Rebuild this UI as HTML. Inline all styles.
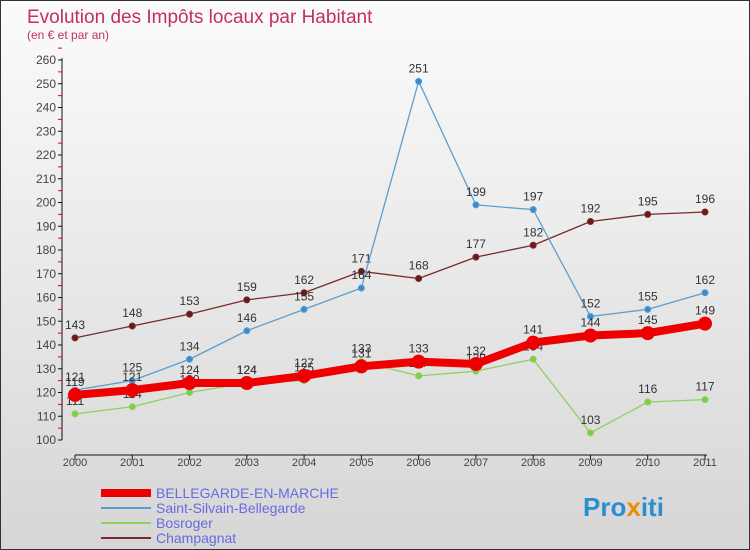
<!DOCTYPE html>
<html><head><meta charset="utf-8"><style>
body{margin:0}
#c{position:relative;width:748px;height:548px;border:1px solid #333;background:linear-gradient(#fbfbfb,#d6d6d6);font-family:"Liberation Sans",sans-serif;overflow:hidden}
</style></head><body>
<div id="c">
<svg id="s" width="748" height="548" xmlns="http://www.w3.org/2000/svg" style="position:absolute;left:0;top:0">
<text x="26" y="22" font-size="19" fill="#c2305d">Evolution des Impôts locaux par Habitant</text>
<text x="26" y="38" font-size="12" fill="#c2305d">(en € et par an)</text>
<text x="582" y="515" font-size="26" font-weight="bold" fill="#2a8fd0">Pro<tspan fill="#f08a00">x</tspan>iti</text>
</svg>
</div>
<script>
const years=[2000,2001,2002,2003,2004,2005,2006,2007,2008,2009,2010,2011];
const yTicks=[100,110,120,130,140,150,160,170,180,190,200,210,220,230,240,250,260];
const bellegarde=[119,121,124,124,127,131,133,132,141,144,145,149];
const saintSilvain=[121,125,134,146,155,164,251,199,197,152,155,162];
const bosroger=[111,114,120,124,125,133,127,129,134,103,116,117];
const champagnat=[143,148,153,159,162,171,168,177,182,192,195,196];
const seriesNames=["BELLEGARDE-EN-MARCHE","Saint-Silvain-Bellegarde","Bosroger","Champagnat"];
const NS="http://www.w3.org/2000/svg";
const svg=document.getElementById('s');
function X(i){return 74+i*(630/11);}
function Y(v){return 439-(v-100)*2.375;}
function el(t,a){const e=document.createElementNS(NS,t);for(const k in a)e.setAttribute(k,a[k]);svg.appendChild(e);return e;}
let e=el('line',{x1:61,y1:Y(260)-2,x2:61,y2:Y(100),stroke:'#111'});


e=el('line',{x1:X(0),y1:454,x2:X(11)+2,y2:454,stroke:'#111'});


yTicks.forEach(v=>{
 el('line',{x1:57,y1:Y(v),x2:61,y2:Y(v),stroke:'#111'});
 el('line',{x1:57,y1:Y(v+5),x2:61,y2:Y(v+5),stroke:'#e00'});
 const t=el('text',{x:55,y:Y(v)+4,'font-size':12,fill:'#444','text-anchor':'end'});
 t.textContent=v;
 
 
});
years.forEach((y,i)=>{
 el('line',{x1:X(i),y1:454,x2:X(i),y2:459,stroke:'#111'});
 const t=el('text',{x:X(i),y:465,'font-size':11,fill:'#444','text-anchor':'middle'});
 t.textContent=y;
 
 
});
function series(data,color,w,r,name,dot){
 const p=el('polyline',{points:data.map((v,i)=>X(i)+','+Y(v)).join(' '),fill:'none',stroke:color,'stroke-width':w,'stroke-linejoin':'round'});
 
 
 data.forEach((v,i)=>{
  const c=el('circle',{cx:X(i),cy:Y(v),r:r,fill:dot,stroke:color,'stroke-width':1});
  
  
  const t=el('text',{x:X(i),y:Y(v)-9,'font-size':12,fill:'#333','text-anchor':'middle'});
  t.textContent=v;
  
  
 });
}
series(champagnat,'#7a2a2a',1.3,3,'champagnat','#6a1a1a');
series(saintSilvain,'#5a9fd0',1.3,3,'saint-silvain','#3a8ad0');
series(bosroger,'#8dd060',1.3,3,'bosroger','#7ad040');
series(bellegarde,'#ee0000',8,6.5,'bellegarde','#e00');
const lg=[['#ee0000',8],['#5a9fd0',2],['#8dd060',2],['#7a2a2a',2]];
seriesNames.forEach((n,i)=>{
 const y=492+i*15;
 const l=el('line',{x1:100,y1:y,x2:150,y2:y,stroke:lg[i][0],'stroke-width':lg[i][1]});
 
 
 const t=el('text',{x:155,y:y+5,'font-size':14,fill:'#6a6ae0'});
 t.textContent=n;
 
 
});
</script>
</body></html>
